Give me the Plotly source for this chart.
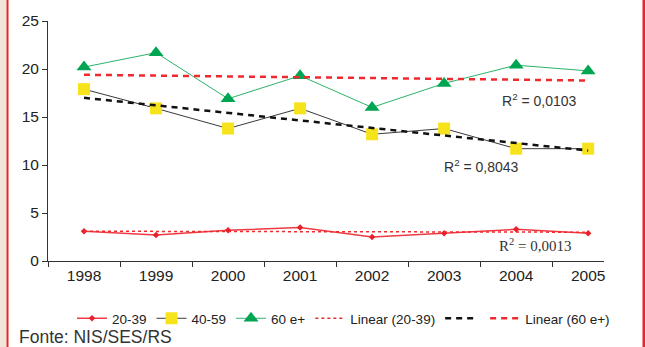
import plotly.graph_objects as go

years = ["1998", "1999", "2000", "2001", "2002", "2003", "2004", "2005"]
v20_39 = [3.1, 2.7, 3.2, 3.5, 2.5, 2.9, 3.3, 2.9]
v40_59 = [17.9, 15.9, 13.8, 15.9, 13.2, 13.8, 11.7, 11.7]
v60 = [20.2, 21.7, 16.9, 19.3, 16.0, 18.5, 20.4, 19.8]

trend_years = ["1998", "2005"]
trend_20_39 = [3.1, 3.0]
trend_40_59 = [17.0, 11.5]
trend_60 = [19.4, 18.8]

r2_labels = ["R<sup>2</sup> = 0,0103", "R<sup>2</sup> = 0,8043", "R<sup>2</sup> = 0,0013"]

W, H = 645, 347
ML, MR, MT, MB = 48, 41, 21, 86
PW = W - ML - MR
PH = H - MT - MB

def px(x):
    return (x - ML) / PW

def py(y):
    return (H - MB - y) / PH

fig = go.Figure()

fig.add_trace(go.Scatter(x=years, y=v20_39, name="20-39", mode="lines+markers",
                         line=dict(color="#ee3a43", width=1.5),
                         marker=dict(symbol="diamond", size=5, color="#e8202a")))
fig.add_trace(go.Scatter(x=years, y=v40_59, name="40-59", mode="lines+markers",
                         line=dict(color="#3a3a3a", width=1),
                         marker=dict(symbol="square", size=12, color="#f7e31b")))
fig.add_trace(go.Scatter(x=years, y=v60, name="60 e+", mode="lines+markers",
                         line=dict(color="#2db36b", width=1),
                         marker=dict(symbol="triangle-up", size=13, color="#00a551")))
fig.add_trace(go.Scatter(x=trend_years, y=trend_20_39, name="Linear (20-39)", mode="lines",
                         line=dict(color="#ee2a2f", width=1.5, dash="dot")))
fig.add_trace(go.Scatter(x=trend_years, y=trend_40_59, name="", mode="lines",
                         line=dict(color="#111111", width=2.5, dash="6px,5px")))
fig.add_trace(go.Scatter(x=trend_years, y=trend_60, name="Linear (60 e+)", mode="lines",
                         line=dict(color="#ee2a2f", width=2.5, dash="6px,5px")))

annos = [
    dict(x=5.78, y=16.8, text=r2_labels[0], font=dict(family="Liberation Sans, Arial", size=14, color="#333")),
    dict(x=4.97, y=9.9, text=r2_labels[1], font=dict(family="Liberation Sans, Arial", size=14, color="#333")),
    dict(x=5.73, y=1.7, text=r2_labels[2], font=dict(family="Liberation Serif, Times New Roman", size=15, color="#333")),
]
for a in annos:
    fig.add_annotation(xref="x", yref="y", xanchor="left", yanchor="middle", showarrow=False, **a)

fig.add_annotation(xref="paper", yref="paper", x=px(17), y=py(337), xanchor="left", yanchor="middle",
                   text="Fonte: NIS/SES/RS", showarrow=False,
                   font=dict(family="Liberation Sans, Arial", size=17.5, color="#333"))

# frame decorations
fig.add_shape(type="rect", xref="paper", yref="paper", x0=px(0), x1=px(6.5), y0=py(H), y1=py(0),
              fillcolor="#efe8d8", line=dict(width=0), layer="below")
fig.add_shape(type="rect", xref="paper", yref="paper", x0=px(6.5), x1=px(8.5), y0=py(H), y1=py(0),
              fillcolor="#e8252b", line=dict(width=0), layer="below")
fig.add_shape(type="rect", xref="paper", yref="paper", x0=px(642.5), x1=px(645), y0=py(H), y1=py(0),
              fillcolor="#e8252b", line=dict(width=0), layer="below")

fig.update_layout(
    width=W, height=H,
    margin=dict(l=ML, r=MR, t=MT, b=MB, autoexpand=False),
    paper_bgcolor="white", plot_bgcolor="white",
    font=dict(family="Liberation Sans, Arial", color="#222"),
    showlegend=True,
    legend=dict(orientation="h", x=px(72), y=py(303), xanchor="left", yanchor="top",
                font=dict(size=13.5, color="#222"), bgcolor="rgba(0,0,0,0)",
                itemwidth=30, tracegroupgap=0),
    xaxis=dict(type="category", range=[-0.5, 7.22], tickson="boundaries",
               ticks="outside", ticklen=5, tickcolor="#333", showline=True, linecolor="#333",
               linewidth=1, showgrid=False, zeroline=False, tickfont=dict(size=15.5, color="#222")),
    yaxis=dict(range=[0, 25], dtick=5, ticks="outside", ticklen=5, tickcolor="#333",
               showline=True, linecolor="#333", linewidth=1, showgrid=False, zeroline=False,
               tickfont=dict(size=15.5, color="#222")),
)

fig.write_html("out.html", config={"displayModeBar": False},
               post_script="document.body.style.margin='0';document.body.style.overflow='hidden';")
